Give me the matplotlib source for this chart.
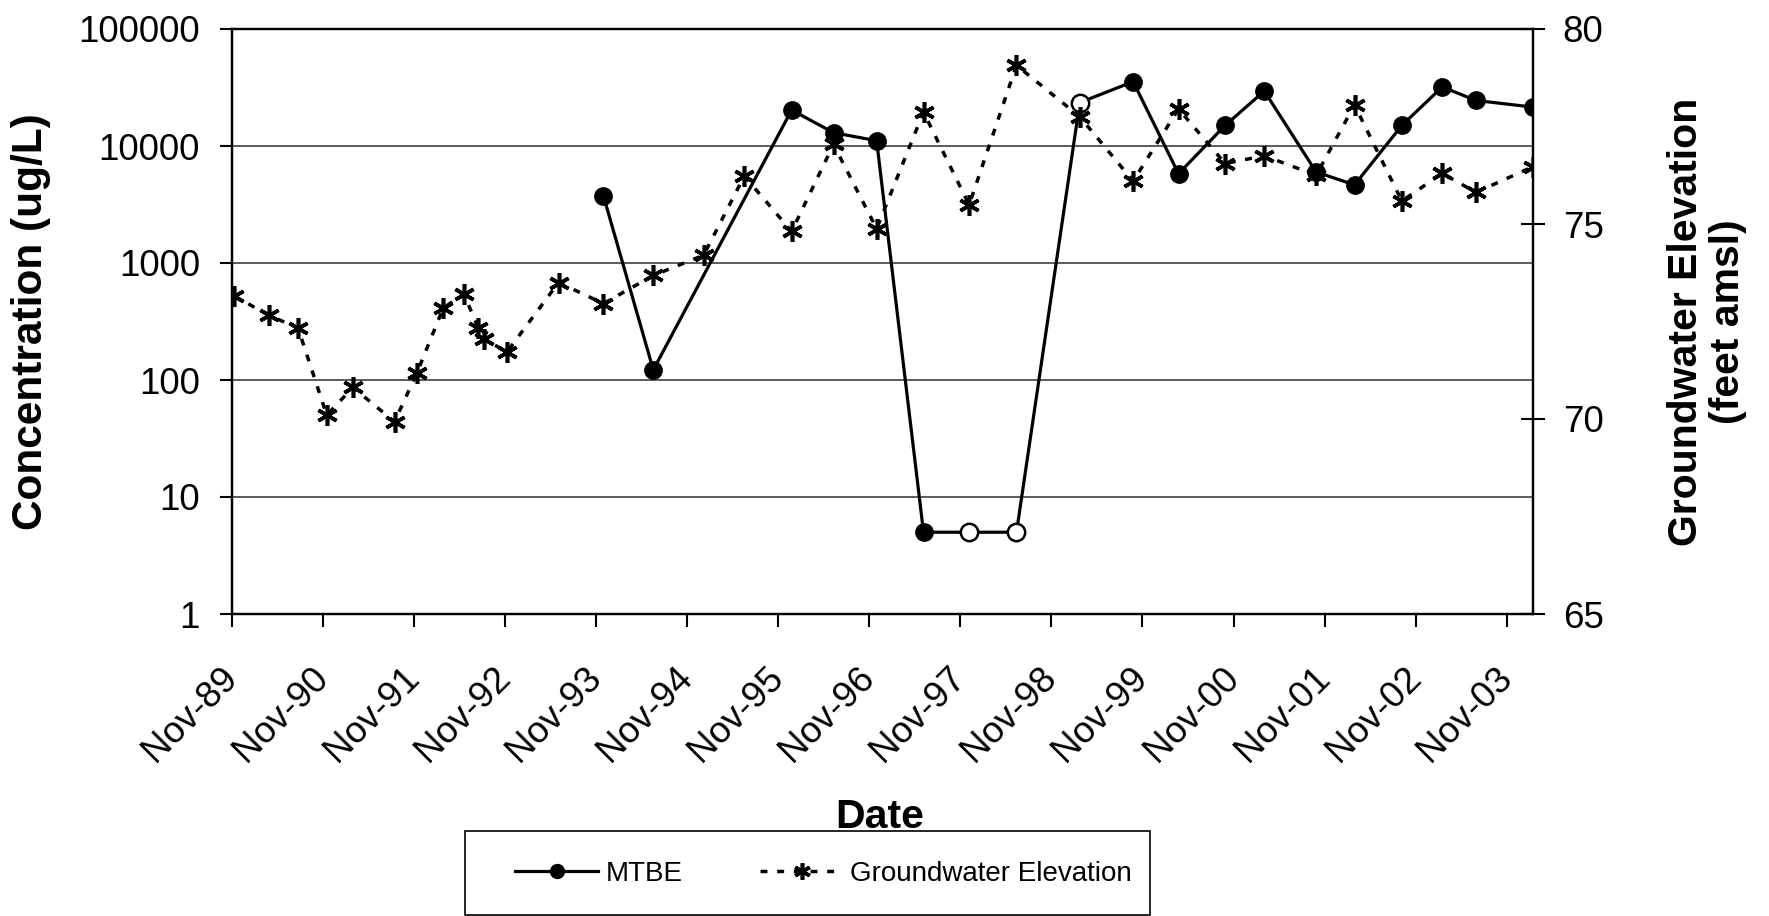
"""
MTBE concentration and groundwater elevation history, Nov-89 to early 2004.
Concentration on a log axis (left), groundwater elevation on the right axis.
"""

import numpy as np
import pandas as pd
import matplotlib
matplotlib.use("Agg")
import matplotlib.pyplot as plt
import matplotlib.dates as mdates
from matplotlib.patches import Rectangle
from matplotlib.ticker import FixedLocator, FuncFormatter, NullLocator

plt.rcParams["font.family"] = ["Liberation Sans", "DejaVu Sans"]


# =============================================================================
# Data
# =============================================================================

mtbe_dates = [
    "1993-11-30", "1994-06-18", "1995-12-25", "1996-06-10", "1996-11-30",
    "1997-06-06", "1997-12-06", "1998-06-14", "1999-02-23", "1999-09-25",
    "2000-03-25", "2000-09-28", "2001-03-04", "2001-09-28", "2002-03-01",
    "2002-09-07", "2003-02-16", "2003-07-01", "2004-02-15",
]
mtbe_conc = [
    3750, 122, 20300, 13000, 11100,
    5, 5, 5, 23500, 35500,
    5800, 15000, 29500, 6000, 4650,
    15000, 32000, 24500, 21500,
]
# open circles = not detected (plotted at the reporting limit)
mtbe_nondetect = [
    False, False, False, False, False,
    False, True, True, True, False,
    False, False, False, False, False,
    False, False, False, False,
]

gw_dates = [
    "1989-11-08", "1990-03-29", "1990-07-24", "1990-11-16", "1991-03-01",
    "1991-08-15", "1991-11-12", "1992-02-26", "1992-05-19", "1992-07-16",
    "1992-08-08", "1992-11-08", "1993-06-03", "1993-11-30", "1994-06-18",
    "1995-01-06", "1995-06-18", "1995-12-25", "1996-06-10", "1996-11-30",
    "1997-06-06", "1997-12-06", "1998-06-14", "1999-02-23", "1999-09-25",
    "2000-03-25", "2000-09-28", "2001-03-04", "2001-09-28", "2002-03-01",
    "2002-09-07", "2003-02-16", "2003-07-01", "2004-02-15",
]
gw_elev = [
    73.16, 72.66, 72.33, 70.10, 70.81,
    69.93, 71.17, 72.84, 73.21, 72.33,
    72.05, 71.72, 73.50, 72.96, 73.68,
    74.20, 76.23, 74.81, 77.04, 74.88,
    77.87, 75.49, 79.07, 77.75, 76.10,
    77.95, 76.55, 76.75, 76.25, 78.05,
    75.59, 76.30, 75.81, 76.47,
]

tick_years = list(range(1989, 2004))
conc_ticks = [1, 10, 100, 1000, 10000, 100000]
elev_ticks = [65, 70, 75, 80]


# =============================================================================
# Figure
# =============================================================================

W, H = 1769, 916
fig = plt.figure(figsize=(W / 100, H / 100), dpi=100)

# plot area in pixels: x 232..1533, y 29..614
ax = fig.add_axes([232 / W, 1 - 614 / H, (1533 - 232) / W, (614 - 29) / H])
ax2 = ax.twinx()

md = pd.to_datetime(mtbe_dates)
gd = pd.to_datetime(gw_dates)
conc = np.array(mtbe_conc, dtype=float)
nd = np.array(mtbe_nondetect)

mtbe_line, = ax.plot(md, conc, color="black", lw=2.3, marker="o", ms=12.5,
                     mfc="black", mec="black", label="MTBE", zorder=3)
ax.plot(md[nd], conc[nd], ls="none", marker="o", ms=12.5, mfc="white",
        mec="black", mew=1.8, zorder=4)

asterisk = (6, 2, 0)
gw_line, = ax2.plot(gd, gw_elev, color="black", lw=2.5, ls=(0, (2.0, 2.8)),
                    marker=asterisk, ms=15, mew=2.6,
                    label="Groundwater Elevation")

# ---- left axis (log) ----
ax.set_yscale("log")
ax.set_ylim(1, 1e5)
ax.yaxis.set_major_locator(FixedLocator(conc_ticks))
ax.yaxis.set_minor_locator(NullLocator())
ax.yaxis.set_major_formatter(FuncFormatter(lambda v, p: f"{v:.0f}"))
ax.grid(axis="y", which="major", color="0.25", lw=1.2)
ax.set_axisbelow(True)

# ---- x axis (dates) ----
ax.set_xlim(pd.Timestamp("1989-11-01"), md[-1])
ax.set_xticks([pd.Timestamp(f"{y}-11-01") for y in tick_years])
ax.xaxis.set_minor_locator(NullLocator())
ax.xaxis.set_major_formatter(mdates.DateFormatter("%b-%y"))

ax.tick_params(axis="y", which="major", direction="out", length=8.6,
               width=1.5, pad=14.4, labelsize=26.5)
ax.tick_params(axis="x", direction="out", length=9.4, width=1.5, pad=32.8,
               labelsize=26.5, labelrotation=45)
plt.setp(ax.get_xticklabels(), ha="right", va="center", rotation_mode="anchor")

# ---- right axis ----
ax2.set_ylim(65, 80)
ax2.yaxis.set_major_locator(FixedLocator(elev_ticks))
ax2.tick_params(axis="y", direction="inout", length=17, width=1.5, pad=13,
                labelsize=26.5)

for a in (ax, ax2):
    for side in ("left", "right", "bottom", "top"):
        a.spines[side].set_linewidth(1.6)
        a.spines[side].set_color("black")

# ---- axis titles ----
fig.text(31 / W, 1 - 321.5 / H, "Concentration (ug/L)", rotation=90,
         ha="center", va="center", fontsize=30.5, fontweight="bold")
fig.text(1707 / W, 1 - 321.5 / H, "Groundwater Elevation\n(feet amsl)",
         rotation=90, ha="center", va="center", multialignment="center",
         fontsize=29.5, fontweight="bold", linespacing=1.15)
fig.text(880 / W, 1 - 828 / H, "Date", ha="center", va="baseline",
         fontsize=29.5, fontweight="bold")

# ---- legend box ----
fig.patches.append(Rectangle((465 / W, 1 - 915 / H), 685 / W, 84 / H,
                             transform=fig.transFigure, fill=False,
                             ec="black", lw=1.2))
fig.legend([mtbe_line, gw_line], ["MTBE", "Groundwater Elevation"],
           loc="center left", bbox_to_anchor=(515 / W, 1 - 874 / H),
           ncol=2, frameon=False, fontsize=20, handlelength=3.0,
           handletextpad=0.25, columnspacing=2.8, borderpad=0,
           borderaxespad=0, markerscale=0.8)

fig.savefig("out.png", dpi=100)
